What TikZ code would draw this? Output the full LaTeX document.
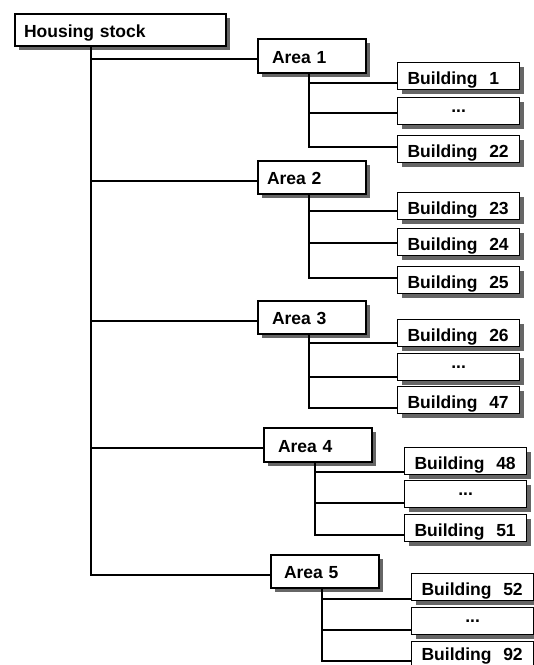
\documentclass[tikz,border=0pt]{standalone}
\usepackage{fontspec}
\setmainfont{Liberation Sans}
\usetikzlibrary{shadows}

\begin{document}
\begin{tikzpicture}[x=1pt,y=-1pt,font=\fontsize{17.5}{20}\selectfont\bfseries]
\tikzstyle{sh}=[drop shadow={shadow xshift=4pt,shadow yshift=-4pt,fill=black!60,opacity=1}]
\tikzstyle{H}=[draw,sh,fill=white,line width=2pt,anchor=north west,align=left,inner ysep=0pt,text depth=0pt,minimum height=32pt,text width=193pt,inner xsep=9pt,text height=14pt]
\tikzstyle{A}=[draw,sh,fill=white,line width=2pt,anchor=north west,align=left,inner ysep=0pt,text depth=0pt,minimum height=34pt,text width=80pt,inner xsep=14pt,text height=14pt]
\tikzstyle{B}=[draw,sh,fill=white,line width=1.2pt,anchor=north west,align=left,inner ysep=0pt,text depth=0pt,minimum height=27pt,text width=102pt,inner xsep=10pt,text height=17pt]
\tikzstyle{D}=[B,align=center,text height=3pt]
\tikzstyle{conn}=[line width=2pt]
\useasboundingbox (0,0) rectangle (534,665);
% levels
\node[H] (hs) at (14,13) {Housing stock};
\node[A] (a1) at (257,38) {Area 1};
\node[A,inner xsep=9pt,text width=90pt,minimum height=33pt] (a2) at (257,160) {Area 2};
\node[A,minimum height=33pt] (a3) at (257,300) {Area 3};
\node[A] (a4) at (263,427) {Area 4};
\node[A,inner xsep=13pt,text width=82pt,minimum height=33pt] (a5) at (270,554) {Area 5};
% buildings
\node[B] (b1) at (397,62) {Building~~1};
\node[D] (d1) at (397,97) {...};
\node[B] (b22) at (397,135) {Building~~22};
\node[B] (b23) at (397,192) {Building~~23};
\node[B] (b24) at (397,228) {Building~~24};
\node[B] (b25) at (397,266) {Building~~25};
\node[B] (b26) at (397,319) {Building~~26};
\node[D] (d3) at (397,353) {...};
\node[B] (b47) at (397,386) {Building~~47};
\node[B] (b48) at (404,447) {Building~~48};
\node[D] (d4) at (404,480) {...};
\node[B] (b51) at (404,514) {Building~~51};
\node[B] (b52) at (411,573) {Building~~52};
\node[D] (d5) at (411,607) {...};
\node[B,text height=11pt] (b92) at (411,641) {Building~~92};
% tree lines
\foreach \a in {a1,a2,a3,a4,a5}
  \draw[conn] ([xshift=77pt]hs.south west) |- ([yshift=-3pt]\a.west);
\foreach \n/\a/\d in {b1/a1/21,d1/a1/16,b22/a1/12,b23/a2/19,b24/a2/15,b25/a2/12,
  b26/a3/24,d3/a3/24,b47/a3/22,b48/a4/25,d4/a4/23,b51/a4/21,b52/a5/26,d5/a5/23,b92/a5/20}
  \draw[conn] ([xshift=-3pt]\a.south) |- ([yshift=-\d pt]\n.north west);
\end{tikzpicture}
\end{document}
